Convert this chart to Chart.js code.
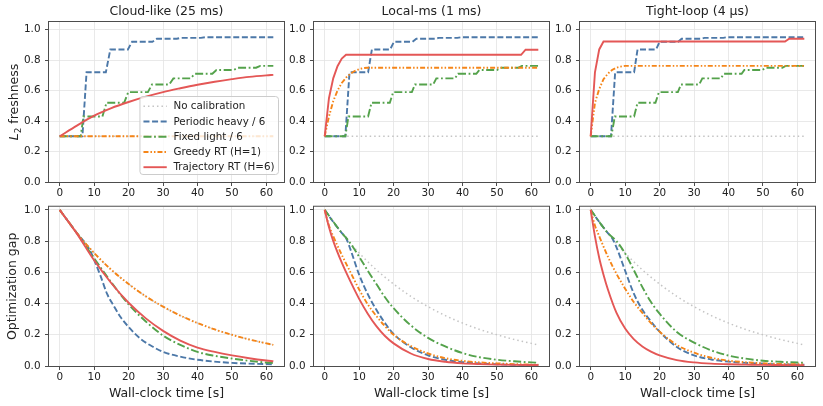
<!DOCTYPE html>
<html>
<head>
<meta charset="utf-8">
<script src="https://cdn.jsdelivr.net/npm/chart.js"></script>
<style>
  html, body { margin: 0; padding: 0; background: #fff; }
  #fig { position: relative; width: 823px; height: 406px; overflow: hidden; background: #fff; }
  #fig canvas { position: absolute; }
</style>
</head>
<body>
<div id="fig"></div>
<script>
// Axes
const xTicks = [0, 10, 20, 30, 40, 50, 60];
const yTicks = [0, 0.2, 0.4, 0.6, 0.8, 1.0];
const seriesNames = ['No calibration', 'Periodic heavy / 6', 'Fixed light / 6', 'Greedy RT (H=1)', 'Trajectory RT (H=6)'];
const panelTitles = ['Cloud-like (25 ms)', 'Local-ms (1 ms)', 'Tight-loop (4 µs)'];

// ---- Top row : L2 freshness ----
const noCalFreshT = [0, 62];
const noCalFresh = [0.3, 0.3];

// Cloud-like
const cloudHeavyT = [0, 6.6, 7.8, 13.4, 14.7, 19.8, 21.0, 26.9, 28.2, 34.0, 35.2, 41.0, 42.2, 62];
const cloudHeavy = [0.3, 0.3, 0.72, 0.72, 0.87, 0.87, 0.92, 0.92, 0.94, 0.94, 0.946, 0.946, 0.95, 0.95];
const cloudLightT = [0, 6.1, 6.9, 12.4, 13.6, 18.7, 19.9, 25.6, 26.8, 31.8, 33.0, 38.0, 39.2, 44.3, 45.5, 50.5, 51.7, 57.0, 58.2, 62];
const cloudLight = [0.3, 0.3, 0.43, 0.43, 0.52, 0.52, 0.59, 0.59, 0.64, 0.64, 0.68, 0.68, 0.71, 0.71, 0.735, 0.735, 0.75, 0.75, 0.762, 0.762];
const cloudGreedyT = [0, 62];
const cloudGreedy = [0.3, 0.3];
const cloudTrajT = [0, 5, 10, 15, 20, 25, 30, 35, 40, 45, 50, 55, 60, 62];
const cloudTraj = [0.3, 0.37, 0.435, 0.485, 0.525, 0.56, 0.59, 0.615, 0.638, 0.658, 0.675, 0.69, 0.70, 0.703];

// Local-ms
const localHeavyT = [0, 6.0, 7.2, 12.6, 13.7, 19.0, 20.1, 25.5, 26.6, 32.0, 33.1, 38.5, 39.6, 62];
const localHeavy = [0.3, 0.3, 0.72, 0.72, 0.87, 0.87, 0.92, 0.92, 0.94, 0.94, 0.946, 0.946, 0.95, 0.95];
const localLightT = [0, 6.0, 6.9, 12.6, 13.6, 18.9, 19.9, 25.3, 26.2, 31.5, 32.4, 37.8, 38.7, 44.0, 44.9, 50.0, 51.0, 56.2, 57.2, 62];
const localLight = [0.3, 0.3, 0.43, 0.43, 0.52, 0.52, 0.59, 0.59, 0.64, 0.64, 0.68, 0.68, 0.71, 0.71, 0.735, 0.735, 0.75, 0.75, 0.762, 0.762];
const localGreedyT = [0, 1.24, 2.48, 3.72, 4.96, 6.2, 7.44, 8.68, 9.92, 11.16, 12.4, 62];
const localGreedy = [0.3, 0.43, 0.53, 0.6, 0.65, 0.685, 0.71, 0.728, 0.74, 0.747, 0.75, 0.75];
const localTrajT = [0, 1.24, 2.48, 3.72, 4.96, 6.2, 57.0, 58.3, 62];
const localTraj = [0.3, 0.55, 0.68, 0.76, 0.81, 0.835, 0.835, 0.868, 0.868];

// Tight-loop
const tightHeavyT = [0, 5.9, 7.1, 12.6, 13.6, 19.0, 20.0, 25.4, 26.4, 32.0, 33.0, 38.5, 39.5, 62];
const tightHeavy = [0.3, 0.3, 0.72, 0.72, 0.87, 0.87, 0.92, 0.92, 0.94, 0.94, 0.946, 0.946, 0.95, 0.95];
const tightLightT = [0, 6.0, 7.0, 12.6, 13.6, 18.8, 19.8, 25.3, 26.2, 31.5, 32.4, 37.8, 38.6, 43.8, 44.6, 49.8, 50.8, 55.6, 56.6, 62];
const tightLight = [0.3, 0.3, 0.43, 0.43, 0.52, 0.52, 0.59, 0.59, 0.64, 0.64, 0.68, 0.68, 0.71, 0.71, 0.735, 0.735, 0.75, 0.75, 0.762, 0.762];
const tightGreedyT = [0, 1.24, 2.48, 3.72, 4.96, 6.2, 7.44, 8.68, 9.92, 62];
const tightGreedy = [0.3, 0.52, 0.61, 0.675, 0.71, 0.735, 0.75, 0.757, 0.762, 0.762];
const tightTrajT = [0, 1.24, 2.48, 3.72, 56.4, 57.6, 62];
const tightTraj = [0.3, 0.72, 0.87, 0.922, 0.922, 0.94, 0.94];

// ---- Bottom row : optimization gap ----
const gapT = [0, 5, 10, 15, 20, 25, 30, 35, 40, 45, 50, 55, 60, 62];
const noCalGap = [1.0, 0.851, 0.724, 0.616, 0.525, 0.446, 0.38, 0.323, 0.275, 0.234, 0.2, 0.17, 0.145, 0.135];

const cloudHeavyGapT = [0, 5, 7.5, 8.7, 10, 11.8, 13.8, 15.7, 17.6, 20, 23.4, 27.3, 30, 35, 40, 50, 62];
const cloudHeavyGap = [1.0, 0.851, 0.785, 0.745, 0.68, 0.58, 0.46, 0.385, 0.315, 0.25, 0.175, 0.12, 0.09, 0.06, 0.04, 0.02, 0.011];
const cloudLightGap = [1.0, 0.851, 0.69, 0.535, 0.395, 0.285, 0.195, 0.135, 0.09, 0.065, 0.048, 0.033, 0.022, 0.019];
const cloudGreedyGap = [1.0, 0.851, 0.724, 0.616, 0.525, 0.446, 0.38, 0.323, 0.275, 0.234, 0.2, 0.17, 0.145, 0.135];
const cloudTrajGap = [1.0, 0.848, 0.677, 0.53, 0.405, 0.305, 0.225, 0.163, 0.118, 0.09, 0.068, 0.05, 0.035, 0.03];

const localHeavyGapT = [0, 2.5, 5, 6.2, 7.5, 10, 12.5, 15, 17.5, 20, 25, 30, 35, 40, 45, 50, 55, 62];
const localHeavyGap = [1.0, 0.922, 0.851, 0.82, 0.745, 0.585, 0.46, 0.36, 0.275, 0.205, 0.12, 0.068, 0.04, 0.025, 0.016, 0.011, 0.008, 0.006];
const localLightGapT = [0, 5, 7, 10, 12.5, 15, 17.5, 20, 25, 30, 35, 40, 45, 50, 55, 60, 62];
const localLightGap = [1.0, 0.851, 0.8, 0.7, 0.61, 0.525, 0.44, 0.37, 0.26, 0.18, 0.125, 0.083, 0.056, 0.04, 0.03, 0.023, 0.021];
const localFastGapT = [0, 1.24, 2.5, 5, 7.5, 10, 12.5, 15, 17.5, 20, 25, 30, 35, 40, 45, 50, 55, 60, 62];
const localGreedyGap = [1.0, 0.9, 0.83, 0.71, 0.6, 0.49, 0.395, 0.32, 0.255, 0.2, 0.128, 0.08, 0.05, 0.033, 0.023, 0.017, 0.012, 0.009, 0.008];
const localTrajGap = [1.0, 0.89, 0.8, 0.66, 0.54, 0.43, 0.335, 0.255, 0.192, 0.145, 0.08, 0.045, 0.027, 0.017, 0.012, 0.009, 0.007, 0.006, 0.006];

const tightHeavyGapT = [0, 2.5, 5, 6.2, 7.5, 10, 12.5, 15, 17.5, 20, 25, 30, 35, 40, 45, 50, 55, 62];
const tightHeavyGap = [1.0, 0.922, 0.851, 0.82, 0.76, 0.61, 0.465, 0.36, 0.285, 0.22, 0.122, 0.068, 0.042, 0.028, 0.02, 0.015, 0.011, 0.008];
const tightLightGapT = [0, 5, 7.5, 10, 12.5, 15, 17.5, 20, 25, 30, 35, 40, 45, 50, 55, 60, 62];
const tightLightGap = [1.0, 0.851, 0.8, 0.72, 0.615, 0.505, 0.41, 0.335, 0.218, 0.15, 0.1, 0.067, 0.047, 0.034, 0.027, 0.022, 0.021];
const tightGreedyGapT = [0, 1.24, 2.5, 5, 7.5, 10, 12.5, 15, 17.5, 20, 25, 30, 35, 40, 45, 50, 55, 60, 62];
const tightGreedyGap = [1.0, 0.9, 0.83, 0.7, 0.59, 0.495, 0.41, 0.34, 0.275, 0.22, 0.135, 0.085, 0.053, 0.034, 0.024, 0.017, 0.013, 0.011, 0.01];
const tightTrajGapT = [0, 1.24, 2.5, 3.72, 5, 7.5, 10, 12.5, 15, 17.5, 20, 25, 30, 35, 40, 45, 50, 55, 60, 62];
const tightTrajGap = [1.0, 0.83, 0.69, 0.585, 0.49, 0.34, 0.24, 0.172, 0.125, 0.092, 0.068, 0.038, 0.023, 0.015, 0.011, 0.009, 0.007, 0.006, 0.005, 0.005];

// Styles
const FONT = "'DejaVu Sans', sans-serif";
const TEXT = '#222222';
const styles = [
  { color: '#c4c4c4', dash: [1.5, 3], width: 1.5 },
  { color: '#4c78a8', dash: [6, 2.6], width: 1.9 },
  { color: '#54a24b', dash: [8, 2.6, 1.8, 2.6], width: 1.9 },
  { color: '#f58518', dash: [5, 2, 1.5, 2, 1.5, 2], width: 1.9 },
  { color: '#e45756', dash: [], width: 1.9 }
];

const colLeft = [49, 314, 580];
const plotW = 235;

function pts(t, v) {
  return t.map((x, i) => ({ x: x, y: v[i] }));
}

// frame, legend and the L2 label
const figExtras = {
  id: 'figExtras',
  afterDatasetsDraw(chart, args, opts) {
    const { ctx, chartArea: ca } = chart;
    ctx.save();
    ctx.strokeStyle = '#4d4d4d';
    ctx.lineWidth = 1;
    ctx.setLineDash([]);
    ctx.strokeRect(ca.left - 0.5, ca.top - 0.5, ca.width + 1, ca.height + 1);

    if (opts.richY) {
      ctx.translate(13, (ca.top + ca.bottom) / 2);
      ctx.rotate(-Math.PI / 2);
      ctx.fillStyle = TEXT;
      ctx.textBaseline = 'alphabetic';
      const fIt = 'italic 12.5px ' + FONT, fSub = '8.8px ' + FONT, fMain = '12.5px ' + FONT;
      ctx.font = fIt; const wL = ctx.measureText('L').width;
      ctx.font = fSub; const w2 = ctx.measureText('2').width;
      ctx.font = fMain; const wR = ctx.measureText(' freshness').width;
      let x = -(wL + w2 + wR) / 2;
      ctx.font = fIt; ctx.fillText('L', x, 4.5); x += wL;
      ctx.font = fSub; ctx.fillText('2', x, 7.5); x += w2;
      ctx.font = fMain; ctx.fillText(' freshness', x, 4.5);
      ctx.setTransform(1, 0, 0, 1, 0, 0);
    }

    if (opts.legend) {
      const sets = chart.data.datasets;
      ctx.font = '10.3px ' + FONT;
      const textW = Math.max(...sets.map(d => ctx.measureText(d.label).width));
      const right = ca.right - 5.5, bottom = ca.bottom - 7.5;
      const w = 3.5 + 23.3 + 6.7 + textW + 4, h = 78;
      const left = right - w, top = bottom - h;
      ctx.beginPath();
      ctx.roundRect(left, top, w, h, 3);
      ctx.fillStyle = 'rgba(255,255,255,0.8)';
      ctx.fill();
      ctx.strokeStyle = '#cccccc';
      ctx.lineWidth = 1;
      ctx.stroke();
      sets.forEach((d, i) => {
        const y = top + 9.7 + i * 15.25;
        ctx.beginPath();
        ctx.setLineDash(d.borderDash);
        ctx.strokeStyle = d.borderColor;
        ctx.lineWidth = d.borderWidth;
        ctx.moveTo(left + 3.5, y);
        ctx.lineTo(left + 26.8, y);
        ctx.stroke();
        ctx.setLineDash([]);
        ctx.fillStyle = TEXT;
        ctx.textBaseline = 'middle';
        ctx.fillText(d.label, left + 33.5, y + 0.5);
      });
    }
    ctx.restore();
  }
};

const fig = document.getElementById('fig');

function addPanel(row, col, series, smooth, extras) {
  const lpad = col === 0 ? 49 : 30, rpad = 6;
  const cv = document.createElement('canvas');
  cv.width = lpad + plotW + rpad;
  cv.height = row === 0 ? 200 : 210;
  cv.style.left = (colLeft[col] - lpad) + 'px';
  cv.style.top = (row === 0 ? 0 : 196) + 'px';
  fig.appendChild(cv);

  const grid = { color: '#e3e3e3', lineWidth: 0.8, tickColor: '#4d4d4d', tickLength: 4, tickWidth: 1 };
  const tickFont = { family: FONT, size: 10.4 };
  const labelFont = { family: FONT, size: 12.5 };

  new Chart(cv, {
    type: 'line',
    data: {
      datasets: series.map((s, i) => ({
        label: seriesNames[i],
        data: pts(s[0], s[1]),
        borderColor: styles[i].color,
        borderWidth: styles[i].width,
        borderDash: styles[i].dash,
        pointRadius: 0,
        fill: false,
        tension: 0,
        cubicInterpolationMode: smooth[i] ? 'monotone' : 'default',
        order: 5 - i
      }))
    },
    options: {
      responsive: false,
      animation: false,
      devicePixelRatio: 1,
      layout: { padding: { top: row === 0 ? 0 : 10, left: 0, right: rpad, bottom: 0 } },
      scales: {
        x: {
          type: 'linear',
          min: -3.1,
          max: 65.1,
          afterBuildTicks: s => { s.ticks = xTicks.map(v => ({ value: v })); },
          afterFit: s => { s.height = row === 0 ? 18 : 40; },
          ticks: { font: tickFont, color: TEXT, padding: 1, maxRotation: 0, autoSkip: false, callback: v => String(v) },
          grid: grid,
          border: { display: false },
          title: { display: row === 1, text: 'Wall-clock time [s]', font: labelFont, color: TEXT, padding: { top: 0, bottom: 4.5 } }
        },
        y: {
          type: 'linear',
          min: 0,
          max: row === 0 ? 1.05 : 1.02,
          afterBuildTicks: s => { s.ticks = yTicks.map(v => ({ value: v })); },
          afterFit: s => { s.width = lpad; },
          ticks: { font: tickFont, color: TEXT, padding: 4.5, callback: v => v.toFixed(1) },
          grid: grid,
          border: { display: false },
          title: { display: row === 1 && col === 0, text: 'Optimization gap', font: labelFont, color: TEXT, padding: { top: 5.5, bottom: 0 } }
        }
      },
      plugins: {
        legend: { display: false },
        tooltip: { enabled: false },
        title: {
          display: row === 0,
          fullSize: false,
          text: panelTitles[col],
          font: { family: FONT, size: 12.5, weight: 'normal' },
          color: TEXT,
          padding: { top: 4.5, bottom: 2.5 }
        },
        figExtras: extras || {}
      }
    },
    plugins: [figExtras]
  });
}

const stepSmooth = [false, false, false, false, false];
const allSmooth = [true, true, true, true, true];

// Top row
addPanel(0, 0, [[noCalFreshT, noCalFresh], [cloudHeavyT, cloudHeavy], [cloudLightT, cloudLight], [cloudGreedyT, cloudGreedy], [cloudTrajT, cloudTraj]],
  [false, false, false, false, true], { legend: true, richY: true });
addPanel(0, 1, [[noCalFreshT, noCalFresh], [localHeavyT, localHeavy], [localLightT, localLight], [localGreedyT, localGreedy], [localTrajT, localTraj]], stepSmooth);
addPanel(0, 2, [[noCalFreshT, noCalFresh], [tightHeavyT, tightHeavy], [tightLightT, tightLight], [tightGreedyT, tightGreedy], [tightTrajT, tightTraj]], stepSmooth);

// Bottom row
addPanel(1, 0, [[gapT, noCalGap], [cloudHeavyGapT, cloudHeavyGap], [gapT, cloudLightGap], [gapT, cloudGreedyGap], [gapT, cloudTrajGap]], allSmooth);
addPanel(1, 1, [[gapT, noCalGap], [localHeavyGapT, localHeavyGap], [localLightGapT, localLightGap], [localFastGapT, localGreedyGap], [localFastGapT, localTrajGap]], allSmooth);
addPanel(1, 2, [[gapT, noCalGap], [tightHeavyGapT, tightHeavyGap], [tightLightGapT, tightLightGap], [tightGreedyGapT, tightGreedyGap], [tightTrajGapT, tightTrajGap]], allSmooth);
</script>
</body>
</html>
